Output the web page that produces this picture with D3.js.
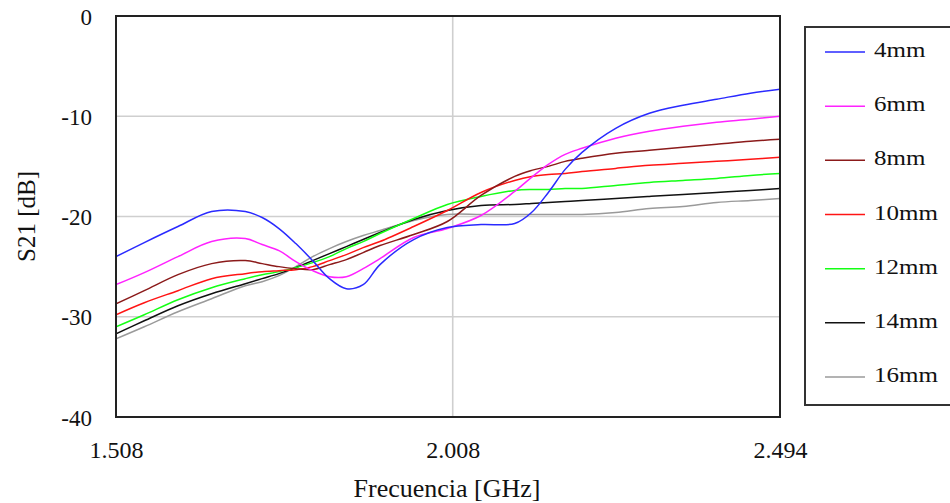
<!DOCTYPE html>
<html>
<head>
<meta charset="utf-8">
<script src="https://cdn.jsdelivr.net/npm/d3@7"></script>
<style>
  html, body { margin: 0; padding: 0; background: #fff; }
  svg { display: block; font-family: "Liberation Serif", "Times New Roman", serif; }
</style>
</head>
<body>
<svg id="chart" width="950" height="503"></svg>
<script>
// Frequency grid (GHz)
const freq = [1.508, 1.55, 1.60, 1.65, 1.70, 1.725, 1.75, 1.775, 1.80, 1.825, 1.85, 1.875, 1.90,
              1.95, 2.00, 2.05, 2.10, 2.125, 2.15, 2.175, 2.20, 2.25, 2.30, 2.35, 2.40, 2.45, 2.494];

// S21 (dB) for each slot width
const s21_4mm  = [-24.0, -22.6, -21.0, -19.5, -19.5, -20.1, -21.2, -22.7, -24.4, -26.2, -27.2, -26.8, -24.8,
                  -22.3, -21.1, -20.8, -20.7, -19.6, -17.6, -15.3, -13.6, -11.2, -9.7, -8.9, -8.3, -7.7, -7.3];
const s21_6mm  = [-26.8, -25.6, -24.0, -22.5, -22.2, -22.8, -23.4, -24.5, -25.4, -26.0, -26.0, -25.2, -24.2,
                  -22.1, -21.2, -19.9, -17.5, -16.1, -14.8, -13.8, -13.2, -12.2, -11.5, -11.0, -10.6, -10.3, -10.0];
const s21_8mm  = [-28.7, -27.4, -25.8, -24.7, -24.4, -24.7, -25.0, -25.2, -25.3, -24.8, -24.3, -23.6, -22.9,
                  -21.8, -20.5, -17.9, -16.0, -15.4, -15.0, -14.5, -14.2, -13.7, -13.4, -13.1, -12.8, -12.5, -12.3];
const s21_10mm = [-29.8, -28.6, -27.4, -26.2, -25.7, -25.5, -25.4, -25.3, -25.0, -24.4, -23.8, -23.1, -22.5,
                  -21.0, -19.4, -17.6, -16.4, -16.0, -15.8, -15.7, -15.5, -15.2, -14.9, -14.7, -14.5, -14.3, -14.1];
const s21_12mm = [-31.0, -29.8, -28.3, -27.1, -26.2, -25.8, -25.5, -25.1, -24.6, -24.0, -23.2, -22.5, -21.7,
                  -20.2, -18.8, -18.0, -17.4, -17.3, -17.3, -17.2, -17.2, -16.9, -16.6, -16.4, -16.2, -15.9, -15.7];
const s21_14mm = [-31.7, -30.4, -28.9, -27.7, -26.7, -26.2, -25.7, -25.1, -24.4, -23.7, -23.0, -22.3, -21.6,
                  -20.3, -19.4, -18.9, -18.8, -18.7, -18.6, -18.5, -18.4, -18.2, -18.0, -17.8, -17.6, -17.4, -17.2];
const s21_16mm = [-32.2, -31.0, -29.5, -28.2, -26.9, -26.5, -25.9, -25.0, -24.0, -23.2, -22.5, -21.9, -21.4,
                  -20.4, -19.8, -19.8, -19.8, -19.8, -19.8, -19.8, -19.8, -19.6, -19.2, -19.0, -18.6, -18.4, -18.2];

const seriesNames  = ["4mm", "6mm", "8mm", "10mm", "12mm", "14mm", "16mm"];
const seriesValues = [s21_4mm, s21_6mm, s21_8mm, s21_10mm, s21_12mm, s21_14mm, s21_16mm];
const seriesColors = ["#2a2aff", "#ff22ff", "#8b1a1a", "#ff1414", "#14ff14", "#111111", "#9a9a9a"];

const xTicks = [1.508, 2.008, 2.494];
const yTicks = [0, -10, -20, -30, -40];

const svg = d3.select("#chart");
const plot = { left: 116, top: 16, right: 780, bottom: 417 };

const x = d3.scaleLinear().domain([1.508, 2.494]).range([plot.left, plot.right]);
const y = d3.scaleLinear().domain([-40, 0]).range([plot.bottom, plot.top]);

// Grid lines (inner ticks only)
const grid = svg.append("g");
grid.selectAll("line.h").data(yTicks.filter(v => v !== 0 && v !== -40)).join("line")
  .attr("x1", plot.left).attr("x2", plot.right)
  .attr("y1", d => y(d)).attr("y2", d => y(d))
  .attr("stroke", "#cfcfcf").attr("stroke-width", 1.6);
grid.selectAll("line.v").data(xTicks.slice(1, -1)).join("line")
  .attr("x1", d => x(d)).attr("x2", d => x(d))
  .attr("y1", plot.top).attr("y2", plot.bottom)
  .attr("stroke", "#cfcfcf").attr("stroke-width", 1.6);

// Curves
const line = d3.line()
  .x((d, i) => x(freq[i]))
  .y(d => y(d))
  .curve(d3.curveCatmullRom.alpha(0.5));

const clipId = "plotClip";
svg.append("clipPath").attr("id", clipId).append("rect")
  .attr("x", plot.left).attr("y", plot.top)
  .attr("width", plot.right - plot.left).attr("height", plot.bottom - plot.top);

svg.append("g").attr("clip-path", `url(#${clipId})`)
  .selectAll("path").data(seriesValues.slice().reverse()).join("path")
  .attr("d", d => line(d))
  .attr("fill", "none")
  .attr("stroke", (d, i) => seriesColors[seriesColors.length - 1 - i])
  .attr("stroke-width", 1.5);

// Plot frame
svg.append("rect")
  .attr("x", plot.left).attr("y", plot.top)
  .attr("width", plot.right - plot.left).attr("height", plot.bottom - plot.top)
  .attr("fill", "none").attr("stroke", "#222").attr("stroke-width", 2);

// Axes (labels only, frame drawn above)
const yAxis = d3.axisLeft(y).tickValues(yTicks).tickSize(0).tickPadding(24)
  .tickFormat(d => String(d));
const gy = svg.append("g").attr("transform", `translate(${plot.left},0)`).call(yAxis);
gy.select(".domain").remove();
gy.selectAll("text").attr("font-size", 23).attr("fill", "#111")
  .attr("font-family", "Liberation Serif, serif")
  .attr("dy", "0.35em");

const xAxis = d3.axisBottom(x).tickValues(xTicks).tickSize(0).tickPadding(24)
  .tickFormat(d3.format(".3f"));
const gx = svg.append("g").attr("transform", `translate(0,${plot.bottom})`).call(xAxis);
gx.select(".domain").remove();
gx.selectAll("text").attr("font-size", 24).attr("fill", "#111")
  .attr("font-family", "Liberation Serif, serif");

// Axis titles
svg.append("text")
  .attr("x", 447).attr("y", 497)
  .attr("text-anchor", "middle").attr("font-size", 26).attr("fill", "#111")
  .text("Frecuencia [GHz]");

svg.append("text")
  .attr("transform", `translate(35,216.5) rotate(-90)`)
  .attr("text-anchor", "middle").attr("font-size", 25).attr("fill", "#111")
  .text("S21 [dB]");

// Legend
const legend = svg.append("g");
legend.append("rect")
  .attr("x", 805).attr("y", 27).attr("width", 160).attr("height", 378)
  .attr("fill", "#fff").attr("stroke", "#333").attr("stroke-width", 2);

const legendY = d3.scalePoint().domain(seriesNames).range([52, 377]);
const items = legend.selectAll("g.item").data(seriesNames).join("g")
  .attr("transform", d => `translate(0,${legendY(d)})`);
items.append("line")
  .attr("x1", 825).attr("x2", 865).attr("y1", 0).attr("y2", 0)
  .attr("stroke", (d, i) => seriesColors[i]).attr("stroke-width", 1.5);
items.append("text")
  .attr("transform", "translate(874,5) scale(1.25,1)")
  .attr("font-size", 20).attr("fill", "#111")
  .text(d => d);
</script>
</body>
</html>
